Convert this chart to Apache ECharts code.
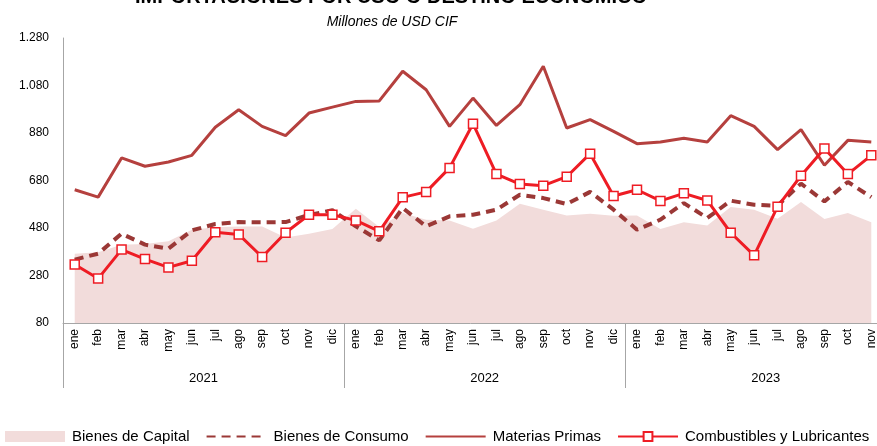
<!DOCTYPE html>
<html>
<head>
<meta charset="utf-8">
<script src="https://cdn.jsdelivr.net/npm/echarts@6/dist/echarts.min.js"></script>
<style>
    html, body { margin: 0; padding: 0; background: #fff; }
    #chart { width: 877px; height: 446px; }
</style>
</head>
<body>
<div id="chart"></div>
<script>
// datos (millones de USD CIF)
var meses = ['ene', 'feb', 'mar', 'abr', 'may', 'jun', 'jul', 'ago', 'sep', 'oct', 'nov', 'dic',
    'ene', 'feb', 'mar', 'abr', 'may', 'jun', 'jul', 'ago', 'sep', 'oct', 'nov', 'dic',
    'ene', 'feb', 'mar', 'abr', 'may', 'jun', 'jul', 'ago', 'sep', 'oct', 'nov'];
var anios = ['2021', '2022', '2023'];

var bienesCapital = [372, 378, 410, 413, 424, 473, 483, 486, 486, 440, 456, 476,
    561, 484, 543, 515, 512, 477, 512, 582, 557, 533, 540, 532,
    533, 476, 504, 491, 568, 557, 519, 589, 518, 543, 504];
var bienesConsumo = [347, 372, 456, 410, 393, 470, 497, 505, 504, 505, 535, 555,
    487, 428, 564, 487, 529, 536, 557, 620, 606, 581, 632, 557,
    473, 515, 585, 522, 595, 578, 574, 667, 592, 674, 610];
var materiasPrimas = [641, 610, 775, 740, 758, 786, 904, 978, 908, 869, 964, 989,
    1013, 1015, 1140, 1062, 908, 1027, 912, 999, 1161, 901, 936, 887,
    835, 842, 858, 842, 953, 908, 810, 894, 744, 849, 842];
var combustibles = [326, 267, 389, 349, 314, 342, 462, 453, 358, 460, 536, 536,
    512, 466, 609, 632, 733, 919, 707, 665, 658, 696, 793, 615,
    641, 594, 626, 596, 460, 365, 570, 700, 815, 707, 786];

var FONT = '"Liberation Sans", Arial, sans-serif';

// separador de miles con punto
function formatoMiles(v) {
    return String(v).replace(/\B(?=(\d{3})+(?!\d))/g, '.');
}

var chart = echarts.init(document.getElementById('chart'), null, {renderer: 'canvas'});

var option = {
    animation: false,
    backgroundColor: '#ffffff',
    textStyle: {fontFamily: FONT},
    title: [{
        text: 'IMPORTACIONES POR USO O DESTINO ECONÓMICO',
        left: 386, top: -18, textAlign: 'center',
        textStyle: {fontSize: 20, fontWeight: 'bold', color: '#000', fontFamily: FONT}
    }, {
        text: 'Millones de USD CIF',
        left: 387, top: 10, textAlign: 'center',
        textStyle: {fontSize: 14, fontStyle: 'italic', fontWeight: 'normal', color: '#000', fontFamily: FONT}
    }],
    legend: {
        bottom: -3,
        left: 0,
        itemWidth: 60,
        itemHeight: 11,
        itemGap: 16,
        textStyle: {fontSize: 15, color: '#000', fontFamily: FONT, padding: [0, 0, 0, 2]},
        data: [
            {name: 'Bienes de Capital', icon: 'rect'},
            {name: 'Bienes de Consumo', itemStyle: {opacity: 0}},
            {name: 'Materias Primas', itemStyle: {opacity: 0}},
            {name: 'Combustibles y Lubricantes'}
        ]
    },
    grid: {left: 63, top: 38, width: 820, height: 285, outerBoundsMode: 'none'},
    xAxis: [{
        type: 'category',
        data: meses,
        boundaryGap: true,
        axisLine: {lineStyle: {color: '#a6a6a6', width: 1}},
        axisTick: {show: false},
        axisLabel: {rotate: 90, interval: 0, margin: 6, fontSize: 12, color: '#000', fontFamily: FONT}
    }, {
        // eje de años: separadores cada 12 meses
        type: 'value',
        position: 'bottom',
        min: 0,
        max: 35,
        interval: 12,
        splitLine: {show: false},
        axisLine: {show: false},
        axisTick: {show: true, length: 65, lineStyle: {color: '#a6a6a6', width: 1}},
        axisLabel: {
            margin: 49,
            fontSize: 13,
            color: '#000',
            fontFamily: FONT,
            padding: [0, 0, 0, 281],
            formatter: function (v) {
                var i = Math.round(v / 12);
                return (v % 12 === 0 && anios[i]) ? anios[i] : '';
            }
        }
    }],
    yAxis: {
        type: 'value',
        min: 80,
        max: 1280,
        interval: 200,
        splitLine: {show: false},
        axisLine: {show: true, lineStyle: {color: '#a6a6a6', width: 1}},
        axisTick: {show: false},
        axisLabel: {fontSize: 12, color: '#000', margin: 14, fontFamily: FONT, formatter: formatoMiles}
    },
    series: [{
        name: 'Bienes de Capital',
        type: 'line',
        data: bienesCapital,
        symbol: 'none',
        lineStyle: {width: 0},
        itemStyle: {color: '#f2dcdb'},
        areaStyle: {color: '#f2dcdb', opacity: 1},
        z: 1
    }, {
        name: 'Bienes de Consumo',
        type: 'line',
        data: bienesConsumo,
        symbol: 'none',
        itemStyle: {color: '#9b3836'},
        lineStyle: {color: '#9b3836', width: 4, type: [9, 6]},
        z: 2
    }, {
        name: 'Materias Primas',
        type: 'line',
        data: materiasPrimas,
        symbol: 'none',
        itemStyle: {color: '#b5403e'},
        lineStyle: {color: '#b5403e', width: 3},
        z: 3
    }, {
        name: 'Combustibles y Lubricantes',
        type: 'line',
        data: combustibles,
        symbol: 'rect',
        symbolSize: 9,
        itemStyle: {color: '#ffffff', borderColor: '#ee1c24', borderWidth: 1.5},
        lineStyle: {color: '#ee1c24', width: 3},
        z: 4
    }]
};

chart.setOption(option);
</script>
</body>
</html>
